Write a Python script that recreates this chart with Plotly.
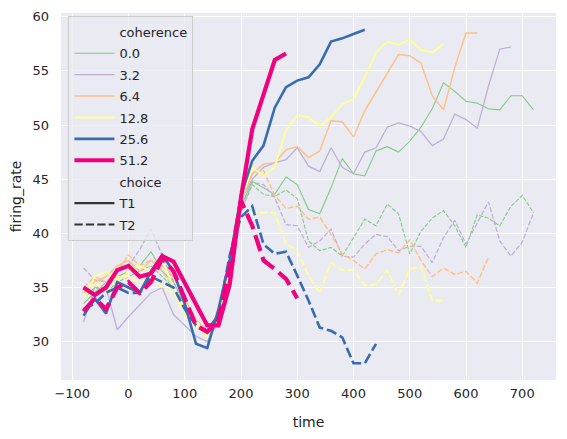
import plotly.graph_objects as go

# time axis (ms), each series is cut off where its line ends
time = list(range(-80, 721, 20))

coherence = ["0.0", "3.2", "6.4", "12.8", "25.6", "51.2"]
choices = ["T1", "T2"]

rate_00_t1 = [33.5, 34.5, 35.5, 36.0, 36.5, 37.0, 38.3, 36.5, 35.5, 33.5,
              32.0, 31.0, 31.5, 36.0, 42.5, 44.8, 44.2, 43.6, 45.2, 44.5,
              42.2, 41.8, 44.2, 46.9, 45.5, 45.3, 47.6, 48.0, 47.5, 48.5,
              49.8, 51.5, 53.9, 53.1, 52.2, 52.0, 51.5, 51.4, 52.7, 52.7,
              51.4]
rate_00_t2 = [34.0, 35.0, 34.5, 35.5, 36.0, 36.5, 37.0, 36.0, 35.0, 33.5,
              32.0, 30.5, 32.0, 37.0, 42.0, 44.5, 43.6, 43.4, 44.0, 43.2,
              39.3, 38.4, 38.7, 37.9, 39.6, 41.3, 40.7, 42.7, 41.8, 38.1,
              40.2, 41.4, 42.1, 40.7, 38.7, 41.7, 41.4, 40.7, 42.5, 43.5,
              41.9]
rate_32_t1 = [31.8, 35.0, 35.0, 31.1, 32.3, 33.4, 34.5, 35.0, 32.5, 31.5,
              30.5, 30.0, 32.0, 37.5, 43.0, 45.0, 46.1, 46.5, 46.8, 47.9,
              46.2, 45.7, 47.9, 46.1, 45.5, 47.5, 47.9, 49.8, 50.2, 49.9,
              49.4, 48.1, 48.7, 51.0, 50.5, 49.7, 53.6, 57.0, 57.2]
rate_32_t2 = [36.8, 35.7, 35.5, 36.5, 37.0, 38.5, 40.4, 38.0, 35.5, 33.5,
              32.0, 30.5, 31.5, 36.5, 42.0, 44.7, 44.5, 43.3, 40.8, 40.7,
              38.7, 39.3, 40.4, 37.9, 37.8, 39.0, 39.9, 39.7, 38.4, 38.8,
              38.8, 37.3, 39.6, 41.2, 39.0, 40.9, 42.9, 39.3, 37.9, 39.2,
              41.9]
rate_64_t1 = [34.5, 35.5, 36.0, 37.0, 37.5, 36.5, 37.5, 37.0, 36.0, 34.0,
              32.0, 31.0, 32.0, 37.0, 43.0, 45.5, 46.4, 46.5, 47.7, 48.0,
              47.0, 47.6, 50.4, 50.3, 48.9, 51.3, 53.0, 54.7, 56.5, 56.4,
              55.7, 52.7, 51.4, 55.3, 58.5, 58.5]
rate_64_t2 = [35.0, 36.0, 35.5, 36.5, 38.0, 37.0, 37.5, 36.5, 35.0, 33.0,
              32.0, 31.0, 32.5, 37.5, 43.0, 45.5, 45.8, 43.5, 42.3, 42.5,
              41.3, 41.5, 39.9, 38.1, 37.5, 36.7, 38.1, 38.5, 38.2, 39.4,
              37.5, 36.0, 36.8, 36.2, 36.5, 35.4, 37.8]
rate_128_t1 = [34.0, 36.0, 36.5, 35.5, 36.5, 37.0, 36.5, 37.5, 35.0, 33.0,
               32.0, 30.5, 32.5, 37.0, 43.0, 46.1, 45.3, 46.1, 49.5, 50.9,
               50.7, 49.9, 50.7, 51.9, 52.4, 54.4, 56.7, 57.7, 57.4, 57.9,
               56.9, 56.7, 57.5]
rate_128_t2 = [34.0, 35.5, 34.5, 36.0, 36.0, 35.5, 36.0, 35.0, 34.5, 32.5,
               31.5, 30.5, 33.0, 37.0, 41.6, 41.9, 41.9, 41.9, 39.0, 38.4,
               36.1, 34.5, 37.3, 36.6, 36.6, 35.2, 35.3, 36.6, 34.3, 36.7,
               36.9, 33.8, 33.8]
rate_256_t1 = [32.4, 34.0, 32.6, 35.5, 35.0, 34.5, 36.5, 38.0, 36.5, 33.5,
               29.8, 29.4, 33.0, 37.5, 43.5, 46.7, 48.1, 51.6, 53.5, 54.1,
               54.4, 55.6, 57.7, 58.0, 58.4, 58.8]
rate_256_t2 = [33.0, 33.5, 34.5, 35.0, 34.5, 34.5, 36.0, 35.5, 35.0, 33.0,
               31.5, 31.0, 32.5, 38.0, 41.5, 42.5, 39.0, 38.1, 38.3, 36.1,
               33.8, 31.3, 31.0, 30.4, 28.0, 28.0, 29.8]
rate_512_t1 = [35.0, 34.3, 35.0, 36.6, 37.0, 36.0, 36.3, 37.9, 37.4, 35.5,
               33.5, 31.5, 31.5, 35.3, 43.3, 49.6, 52.8, 56.0, 56.6]
rate_512_t2 = [32.8, 34.0, 33.0, 35.0, 35.5, 34.5, 35.5, 37.7, 36.5, 34.0,
               31.5, 30.9, 32.0, 37.0, 43.0, 40.7, 37.5, 36.7, 35.8, 34.0]

series = {
    ("0.0", "T1"): rate_00_t1, ("0.0", "T2"): rate_00_t2,
    ("3.2", "T1"): rate_32_t1, ("3.2", "T2"): rate_32_t2,
    ("6.4", "T1"): rate_64_t1, ("6.4", "T2"): rate_64_t2,
    ("12.8", "T1"): rate_128_t1, ("12.8", "T2"): rate_128_t2,
    ("25.6", "T1"): rate_256_t1, ("25.6", "T2"): rate_256_t2,
    ("51.2", "T1"): rate_512_t1, ("51.2", "T2"): rate_512_t2,
}

# Accent palette, line widths from seaborn's size mapping (px)
colours = ["#7fc97f", "#beaed4", "#fdc086", "#ffff99", "#386cb0", "#f0027f"]
widths = [1.04, 1.24, 1.43, 1.82, 2.6, 4.17]
TEXT = "#262626"
FONT = "DejaVu Sans"
TICK_SIZE = 13
LABEL_SIZE = 14


def dash_for(choice, w):
    if choice == "T1":
        return "solid"
    return f"{4 * w:.1f}px,{1.5 * w:.1f}px"


fig = go.Figure()

for coh, colour, w in zip(coherence, colours, widths):
    for ch in choices:
        vals = series[(coh, ch)]
        fig.add_trace(go.Scatter(
            x=time[:len(vals)], y=vals, mode="lines",
            line=dict(color=colour, width=w, dash=dash_for(ch, w)),
            showlegend=False, hoverinfo="skip",
        ))

# legend, seaborn style: titles as blank entries
def legend_entry(name, colour, w, dash="solid"):
    fig.add_trace(go.Scatter(
        x=[None], y=[None], mode="lines", name=name, legendgroup=name,
        line=dict(color=colour, width=w, dash=dash),
    ))

legend_entry("coherence", "rgba(0,0,0,0)", 1)
for coh, colour, w in zip(coherence, colours, widths):
    legend_entry(coh, colour, w)
legend_entry("choice", "rgba(0,0,0,0)", 1)
legend_entry("T1", "#333333", 2.08)
legend_entry("T2", "#333333", 2.08, dash_for("T2", 2.08))

all_vals = [v for vals in series.values() for v in vals]
lo, hi = min(all_vals), max(all_vals)
pad = (hi - lo) * 0.05

# page body has an 8px margin, so the figure is 8px smaller
fig.update_layout(
    width=559, height=431, autosize=False,
    margin=dict(l=53, r=11, t=5, b=59),
    paper_bgcolor="white", plot_bgcolor="#EAEAF2",
    font=dict(family=FONT, size=TICK_SIZE, color=TEXT),
    showlegend=True,
    legend=dict(
        x=0.015, y=0.992, xanchor="left", yanchor="top",
        bgcolor="rgba(234,234,242,0.8)", bordercolor="#cccccc", borderwidth=1,
        font=dict(family=FONT, size=TICK_SIZE, color=TEXT),
        tracegroupgap=1.5, itemwidth=40,
    ),
)
fig.update_xaxes(
    range=[-120, 760], tickvals=list(range(-100, 701, 100)),
    showgrid=True, gridcolor="white", gridwidth=1.4, zeroline=False,
    showline=False, ticks="", automargin=False, ticklabelstandoff=4,
    ticklabeloverflow="allow",
    title=dict(text="time", standoff=17, font=dict(size=LABEL_SIZE)),
    tickfont=dict(size=TICK_SIZE, color=TEXT),
)
fig.update_yaxes(
    range=[lo - pad, hi + pad], tickvals=list(range(30, 61, 5)),
    showgrid=True, gridcolor="white", gridwidth=1.4, zeroline=False,
    showline=False, ticks="", automargin=False, ticklabelstandoff=11,
    ticklabeloverflow="allow",
    title=dict(text="firing_rate", standoff=8, font=dict(size=LABEL_SIZE)),
    tickfont=dict(size=TICK_SIZE, color=TEXT),
)

fig.write_html("out.html")
